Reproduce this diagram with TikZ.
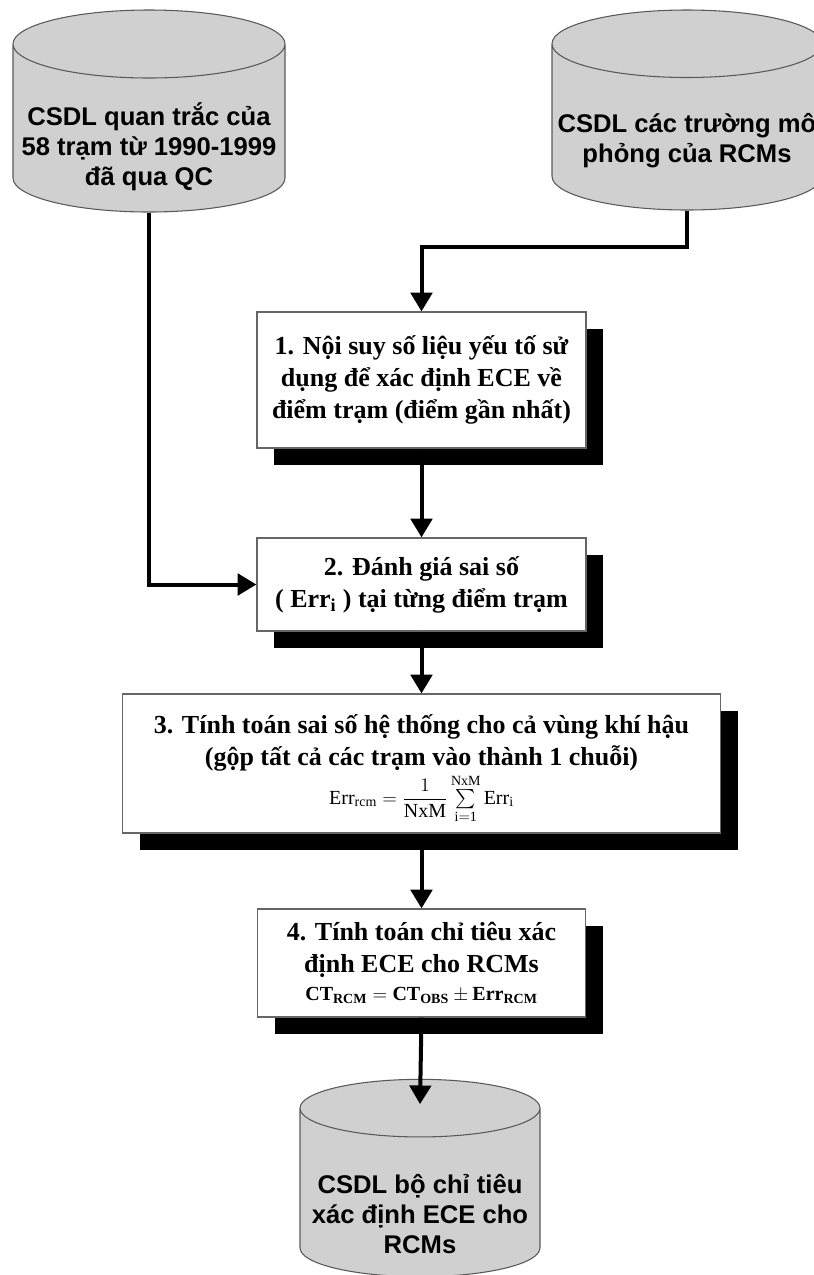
\documentclass[tikz,border=0pt]{standalone}
\usepackage{fontspec}
\usepackage{amsmath}
\setmainfont{Liberation Serif}
\setsansfont{Liberation Sans}
\usetikzlibrary{shapes.geometric,arrows.meta,shadows,positioning}

\definecolor{dbgray}{RGB}{208,208,208}

\tikzset{
  db/.style={cylinder, shape border rotate=90, aspect=0.25, draw=black!65, line width=0.8pt,
    fill=dbgray, inner sep=0pt, anchor=shape center},
  dbtext/.style={align=center, inner sep=0pt,
    font=\sffamily\bfseries\fontsize{19.2}{22.5}\selectfont},
  proc/.style={rectangle, draw=black!60, line width=0.9pt, fill=white, inner sep=0pt, align=center,
    general shadow={fill=black, shadow xshift=12.75pt, shadow yshift=-12.75pt},
    font=\bfseries\fontsize{19.5}{24}\selectfont},
  arr/.style={line width=3pt, -{Triangle[length=14pt,width=16pt]}},
}

\begin{document}
\begin{tikzpicture}[x=0.75pt,y=-0.75pt]
\useasboundingbox (0,0) rectangle (814,1275);

% databases
\node[db, text width=204pt, minimum height=151.5pt] (obs) at (149,111) {};
\node[dbtext] (obstext) at ([yshift=-27pt]obs.shape center)
  {CSDL quan trắc của\\58 trạm từ 1990-1999\\đã qua QC};
\node[db, text width=202.5pt, minimum height=150pt] (sim) at (687,110) {};
\node[dbtext] (simtext) at ([yshift=-23pt]sim.shape center)
  {CSDL các trường mô\\phỏng của RCMs};

% steps
\node[proc, minimum width=246.75pt, minimum height=102pt] (s1) at (421.5,380)
  {1. Nội suy số liệu yếu tố sử\\dụng để xác định ECE về\\điểm trạm (điểm gần nhất)};
\node[proc, minimum width=246.75pt, minimum height=69.75pt] (s2) at (421.5,584.5)
  {2. Đánh giá sai số\\( $\mathbf{Err}_{\mathbf{i}}$ ) tại từng điểm trạm};
\node[proc, minimum width=448.5pt, minimum height=104.25pt] (s3) at (421.5,763.5)
  {\rule{0pt}{22pt}3. Tính toán sai số hệ thống cho cả vùng khí hậu\\(gộp tất cả các trạm vào thành 1 chuỗi)\\[2pt]
   {\mdseries\fontsize{15}{17}\selectfont $\mathrm{Err}_{\mathrm{rcm}}=\dfrac{1}{\mathrm{NxM}}\sum\limits_{\mathrm{i=1}}^{\mathrm{NxM}}\mathrm{Err}_{\mathrm{i}}$}};
\node[proc, minimum width=246pt, minimum height=81pt] (s4) at (421.5,963)
  {4. Tính toán chỉ tiêu xác\\định ECE cho RCMs\\[-3pt]
   {\fontsize{15}{17}\selectfont $\mathbf{CT}_{\mathbf{RCM}}=\mathbf{CT}_{\mathbf{OBS}}\pm\mathbf{Err}_{\mathbf{RCM}}$}};

\node[db, aspect=0.24, text width=180pt, minimum height=148pt] (ece) at (420,1178) {};
\node[dbtext] (ecetext) at ([yshift=-27pt]ece.shape center)
  {CSDL bộ chỉ tiêu\\xác định ECE cho\\RCMs};

\coordinate (bend) at (421.5,247);

% connectors
\draw[arr] (sim.bottom) |- (bend) -- (s1.north);
\draw[arr] (obs.bottom) |- (s2.west);
\draw[arr] (s1.south) -- (s2.north);
\draw[arr] (s2.south) -- (s3.north);
\draw[arr] (s3.south) -- (s4.north);
\draw[arr] (s4.south) -- ([yshift=-19pt]ece.top);

\end{tikzpicture}
\end{document}
